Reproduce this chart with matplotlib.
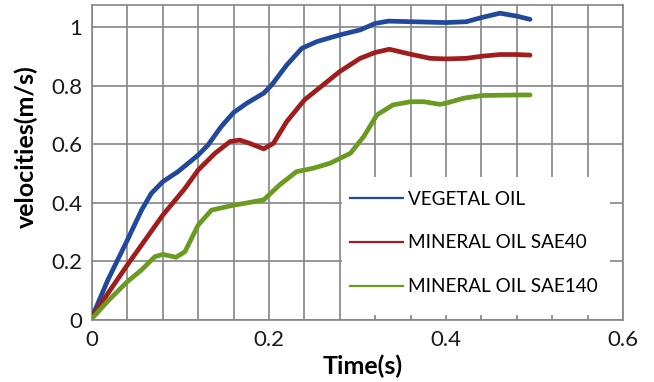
import matplotlib
matplotlib.use('Agg')
import matplotlib.pyplot as plt
from matplotlib.patches import Rectangle
import numpy as np

plt.rcParams['font.family'] = ['Lato', 'DejaVu Sans']

# values
t_veg = [0, 0.018, 0.04, 0.056, 0.067, 0.08, 0.097, 0.12, 0.131, 0.146, 0.16, 0.175, 0.194,
         0.203, 0.22, 0.237, 0.254, 0.28, 0.303, 0.32, 0.335, 0.36, 0.40, 0.423, 0.44, 0.461,
         0.48, 0.495]
v_veg = [0.01, 0.137, 0.273, 0.375, 0.432, 0.472, 0.506, 0.563, 0.597, 0.66, 0.708, 0.74, 0.774,
         0.802, 0.87, 0.927, 0.95, 0.973, 0.99, 1.012, 1.02, 1.018, 1.015, 1.018, 1.032, 1.047,
         1.037, 1.026]

t_sae40 = [0, 0.018, 0.04, 0.08, 0.105, 0.12, 0.139, 0.156, 0.167, 0.178, 0.194, 0.205, 0.22,
           0.24, 0.261, 0.28, 0.303, 0.32, 0.336, 0.36, 0.382, 0.40, 0.423, 0.44, 0.461, 0.48,
           0.495]
v_sae40 = [0.01, 0.091, 0.188, 0.358, 0.449, 0.512, 0.569, 0.609, 0.614, 0.603, 0.584, 0.603,
           0.677, 0.751, 0.802, 0.848, 0.893, 0.913, 0.924, 0.907, 0.893, 0.891, 0.893, 0.90,
           0.906, 0.906, 0.904]

t_sae140 = [0, 0.018, 0.04, 0.056, 0.071, 0.08, 0.095, 0.105, 0.12, 0.135, 0.16, 0.174, 0.194,
            0.212, 0.231, 0.25, 0.269, 0.292, 0.307, 0.322, 0.34, 0.36, 0.375, 0.393, 0.40,
            0.42, 0.44, 0.48, 0.495]
v_sae140 = [0.005, 0.065, 0.131, 0.171, 0.216, 0.224, 0.214, 0.233, 0.324, 0.375, 0.392, 0.399,
            0.41, 0.461, 0.506, 0.518, 0.535, 0.569, 0.626, 0.70, 0.734, 0.745, 0.745, 0.736,
            0.74, 0.757, 0.766, 0.768, 0.768]

labels = ['VEGETAL OIL', 'MINERAL OIL SAE40', 'MINERAL OIL SAE140']
colors = ['#21489a', '#a01d1d', '#6b9a22']

x_ticks = [0, 0.2, 0.4, 0.6]
y_ticks = [0, 0.2, 0.4, 0.6, 0.8, 1]

fig = plt.figure(figsize=(6.54, 3.82), dpi=100)
ax = fig.add_axes([92 / 654, 62 / 382, 531 / 654, 315 / 382])

series = [(t_veg, v_veg), (t_sae40, v_sae40), (t_sae140, v_sae140)]
for (t, v), c in zip(series, colors):
    ax.plot(t, v, color=c, lw=3.4, solid_joinstyle='round', solid_capstyle='round', zorder=3)

ax.set_xlim(0, 0.6)
ax.set_ylim(0, 1.075)
ax.set_xticks(x_ticks)
ax.set_xticklabels(['0', '0.2', '0.4', '0.6'])
ax.set_yticks(y_ticks)
ax.set_yticklabels(['0', '0.2', '0.4', '0.6', '0.8', '1'])
ax.set_xticks(np.arange(0, 0.601, 0.04), minor=True)
ax.grid(True, which='both', axis='x', color='#858585', lw=1.2)
ax.grid(True, which='major', axis='y', color='#858585', lw=1.2)
ax.tick_params(which='both', length=0, labelsize=16, pad=7, labelcolor='#1a1a1a')
for s in ax.spines.values():
    s.set_color('#858585')
    s.set_linewidth(1.2)

# white legend area covering the grid
ax.add_patch(Rectangle((0.471, 0.016), 0.504, 0.438, transform=ax.transAxes,
                       facecolor='white', edgecolor='none', zorder=1.8))

handles = [plt.Line2D([], [], color=c, lw=1.6) for c in colors]
ax.legend(handles, labels, loc='upper left', bbox_to_anchor=(0.486, 0.411), frameon=False,
          fontsize=13.6, handlelength=2.8, handletextpad=0.27, labelspacing=1.42,
          borderaxespad=0, borderpad=0)

ax.set_xlabel('Time(s)', fontsize=18, fontweight='bold')
ax.set_ylabel('velocities(m/s)', fontsize=18, fontweight='bold')
ax.xaxis.set_label_coords(0.51, -0.111)
ax.yaxis.set_label_coords(-0.102, 0.549)

fig.savefig('out.png', dpi=100)
